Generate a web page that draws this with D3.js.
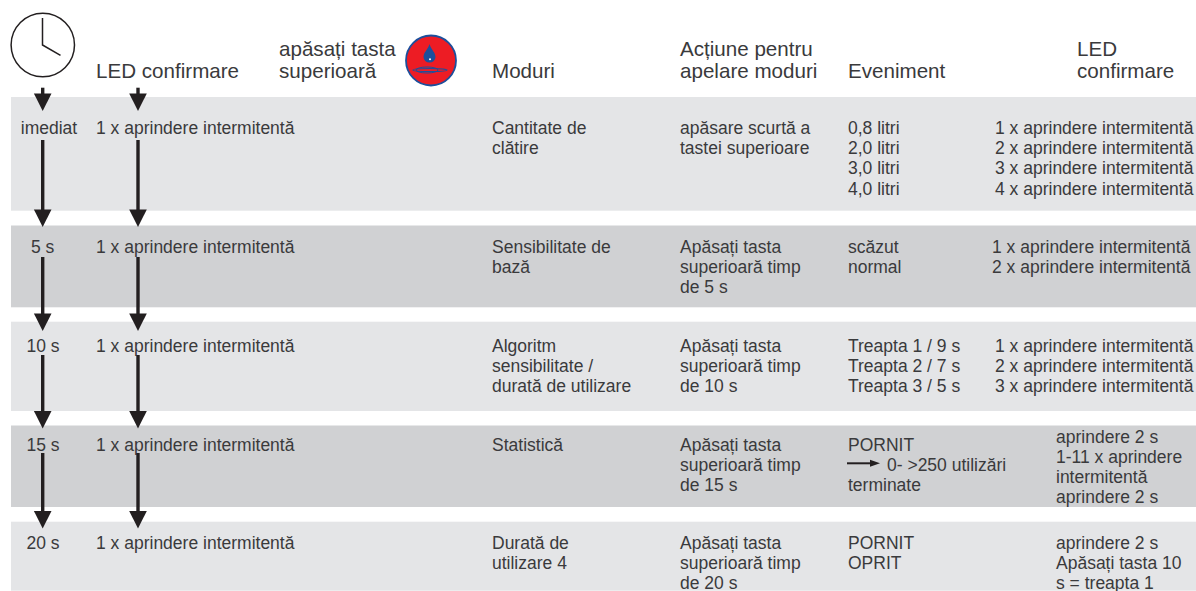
<!DOCTYPE html>
<html>
<head>
<meta charset="utf-8">
<script src="https://cdn.jsdelivr.net/npm/d3@7"></script>
<style>
html, body { margin: 0; padding: 0; background: #fff; }
svg { display: block; }
text { font-family: "Liberation Sans", Arial, sans-serif; fill: #3a3a3c; }
</style>
</head>
<body>
<svg width="1196" height="591"></svg>
<script>
// table content
var times = ["imediat", "5 s", "10 s", "15 s", "20 s"];
var ledFirst = "1 x aprindere intermitentă";
var modes = [
  ["Cantitate de", "clătire"],
  ["Sensibilitate de", "bază"],
  ["Algoritm", "sensibilitate /", "durată de utilizare"],
  ["Statistică"],
  ["Durată de", "utilizare 4"]
];
var actions = [
  ["apăsare scurtă a", "tastei superioare"],
  ["Apăsați tasta", "superioară timp", "de 5 s"],
  ["Apăsați tasta", "superioară timp", "de 10 s"],
  ["Apăsați tasta", "superioară timp", "de 15 s"],
  ["Apăsați tasta", "superioară timp", "de 20 s"]
];
var events = [
  ["0,8 litri", "2,0 litri", "3,0 litri", "4,0 litri"],
  ["scăzut", "normal"],
  ["Treapta 1 / 9 s", "Treapta 2 / 7 s", "Treapta 3 / 5 s"],
  ["PORNIT", "0- >250 utilizări", "terminate"],
  ["PORNIT", "OPRIT"]
];
var ledLast = [
  ["1 x aprindere intermitentă", "2 x aprindere intermitentă", "3 x aprindere intermitentă", "4 x aprindere intermitentă"],
  ["1 x aprindere intermitentă", "2 x aprindere intermitentă"],
  ["1 x aprindere intermitentă", "2 x aprindere intermitentă", "3 x aprindere intermitentă"],
  ["aprindere 2 s", "1-11 x aprindere", "intermitentă", "aprindere 2 s"],
  ["aprindere 2 s", "Apăsați tasta 10", "s = treapta 1"]
];
var rowFills = ["#e4e5e7", "#d0d1d3", "#e4e5e7", "#d0d1d3", "#e4e5e7"];

var svg = d3.select("svg");

// row geometry is uneven in the original so the scales are ordinal
var rowTop = d3.scaleOrdinal().domain(times).range([97, 225.5, 321.7, 425.5, 521.7]);
var rowBottom = d3.scaleOrdinal().domain(times).range([210.7, 307.3, 411, 507, 590.7]);
var rowBase = d3.scaleOrdinal().domain(times).range([134, 252.8, 351.6, 450.7, 549]);
var lastBase = d3.scaleOrdinal().domain(times).range([134, 252.8, 351.6, 442.7, 549]);
var lastX = d3.scaleOrdinal().domain(times).range([995, 992, 995, 1056, 1056]);
var timeX = d3.scaleOrdinal().domain(times).range([49, 42.7, 43, 43, 43]);
var lineH = 20.2, fontSize = 17.5, headFont = 20.6, headLine = 22.7, headSize = 17.5;

svg.selectAll("rect.row")
  .data(times)
  .enter().append("rect")
  .attr("class", "row")
  .attr("x", 11)
  .attr("y", function(d) { return rowTop(d); })
  .attr("width", 1185)
  .attr("height", function(d) { return rowBottom(d) - rowTop(d); })
  .attr("fill", function(d, i) { return rowFills[i]; });

function block(x, y, lines, size, lh) {
  var t = svg.append("text").attr("font-size", size);
  lines.forEach(function(s, i) {
    t.append("tspan").attr("x", x).attr("y", y + i * lh).text(s);
  });
  return t;
}

// header
block(96, 78.3, ["LED confirmare"], headFont, headLine);
block(279, 55.5, ["apăsați tasta", "superioară"], headFont, headLine);
block(492, 78.3, ["Moduri"], headFont, headLine);
block(680, 55.5, ["Acțiune pentru", "apelare moduri"], headFont, headLine);
block(848, 78.3, ["Eveniment"], headFont, headLine);
block(1077, 55.5, ["LED", "confirmare"], headFont, headLine);

// rows
times.forEach(function(t, i) {
  var base = rowBase(t);
  svg.append("text").attr("x", timeX(t)).attr("y", base).attr("font-size", fontSize)
    .attr("text-anchor", "middle").text(t);
  block(96, base, [ledFirst], fontSize, lineH);
  block(492, base, modes[i], fontSize, lineH);
  block(680, base, actions[i], fontSize, lineH);
  block(848, base, events[i], fontSize, lineH);
  block(lastX(t), lastBase(t), ledLast[i], fontSize, lineH);
});

// the statistics line sits after the small arrow
svg.selectAll("tspan").filter(function() { return this.textContent == "0- >250 utilizări"; })
  .attr("x", 887);

// arrows
function arrow(x, y0, y1) {
  svg.append("line").attr("x1", x).attr("x2", x).attr("y1", y0).attr("y2", y1 - headSize + 1)
    .attr("stroke", "#231f20").attr("stroke-width", 3.4);
  svg.append("path")
    .attr("d", d3.line()([[x - 8.8, y1 - headSize], [x + 8.8, y1 - headSize], [x, y1]]) + "Z")
    .attr("fill", "#231f20");
}
var arrowX = [42.7, 138];
var arrowStart = [87.7, 140, 257, 355, 453];
var arrowEnd = [111, 227, 331, 428.5, 528.5];
arrowX.forEach(function(x) {
  arrowStart.forEach(function(s, i) { arrow(x, s, arrowEnd[i]); });
});

// small arrow in the statistics row
svg.append("line").attr("x1", 847).attr("x2", 872).attr("y1", 463.3).attr("y2", 463.3)
  .attr("stroke", "#231f20").attr("stroke-width", 2);
svg.append("path").attr("d", "M870,459.8L880,463.3L870,466.8Z").attr("fill", "#231f20");

// clock
svg.append("circle").attr("cx", 42.8).attr("cy", 45).attr("r", 31.7)
  .attr("fill", "#fff").attr("stroke", "#231f20").attr("stroke-width", 1.5);
svg.append("path").attr("d", "M42.5,18V45L60.5,55.3").attr("fill", "none")
  .attr("stroke", "#231f20").attr("stroke-width", 1.5);

// button icon
var icon = svg.append("g").attr("transform", "translate(431,60.5)");
icon.append("circle").attr("r", 25).attr("fill", "#ed1c24")
  .attr("stroke", "#1c4f9c").attr("stroke-width", 1.8);
icon.append("path").attr("d", "M-1.5,-16.5C0,-11 4.5,-8 4.5,-3.5A6,5.5 0 0 1 -7.5,-3.5C-7.5,-8 -3,-11 -1.5,-16.5Z")
  .attr("fill", "#1c4f9c");
icon.append("circle").attr("cx", -1).attr("cy", -1.2).attr("r", 1).attr("fill", "#fff");
icon.append("ellipse").attr("cx", -1).attr("cy", 9.5).attr("rx", 17).attr("ry", 1.5)
  .attr("fill", "none").attr("stroke", "#1c4f9c").attr("stroke-width", 1.1);
icon.append("ellipse").attr("cx", -4).attr("cy", 9.5).attr("rx", 11).attr("ry", 3)
  .attr("fill", "none").attr("stroke", "#1c4f9c").attr("stroke-width", 1);
</script>
</body>
</html>
